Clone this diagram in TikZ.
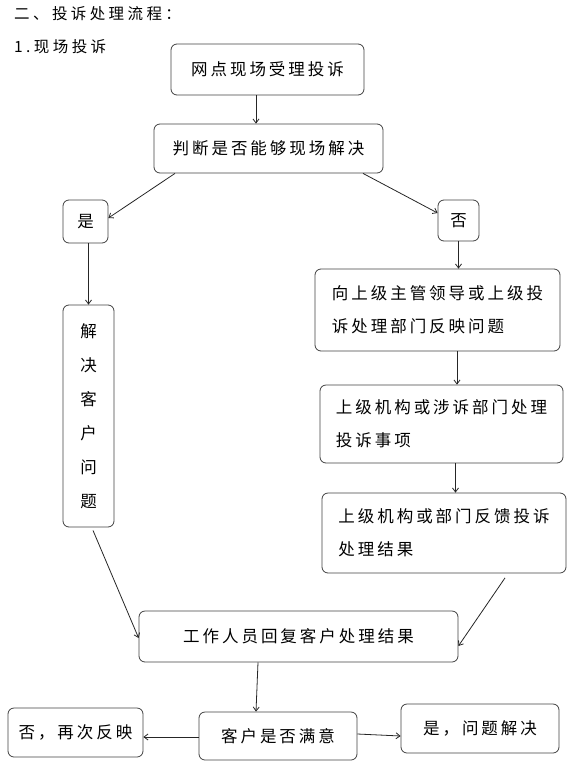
\documentclass[tikz,border=0pt]{standalone}
\usepackage{fontspec}
\newfontfamily\cjk[LetterSpace=18]{Noto Sans CJK SC}
\newfontfamily\cjkh[LetterSpace=22]{Noto Sans CJK SC}
\usetikzlibrary{arrows.meta}
\usetikzlibrary{calc}
\tikzset{b/.style={draw=black!75, line width=0.8pt, rounded corners=6pt, inner sep=0pt, font=\cjk\fontsize{16.5}{33}\selectfont}}
\tikzset{h/.style={inner sep=0pt, anchor=west, font=\cjkh\fontsize{15.5}{15.5}\selectfont}}
\tikzset{v/.style={font=\cjk\fontsize{16.5}{34}\selectfont}}
\tikzset{a/.style={->, draw=black!85, line width=0.8pt}}

\begin{document}
\begin{tikzpicture}[x=1pt,y=-1pt,>={Straight Barb[length=4pt,width=6pt]}]
      \useasboundingbox (0,0) rectangle (574,769);
      \node[h] (title) at (14,14) {二、投诉处理流程：};
      \node[h] (sub) at (14,47) {1.现场投诉};
      \node[b,minimum width=193,minimum height=51] (A) at (267.5,69.5) {网点现场受理投诉};
      \node[b,minimum width=229,minimum height=49] (B) at (268.5,148.5) {判断是否能够现场解决};
      \node[b,minimum width=45,minimum height=43] (yes) at (85.5,221.5) {是};
      \node[b,minimum width=41,minimum height=41] (no) at (458.5,220.5) {否};
      \node[b,minimum width=245,minimum height=82,align=left] (up1) at (437.5,310)
        {向上级主管领导或上级投\\诉处理部门反映问题};
      \node[b,minimum width=243,minimum height=78,align=left] (up2) at (441.5,424)
        {上级机构或涉诉部门处理\\投诉事项\hspace*{117pt}};
      \node[b,minimum width=244,minimum height=80,align=left] (up3) at (444,533)
        {上级机构或部门反馈投诉\\处理结果\hspace*{117pt}};
      \node[b,v,minimum width=51,minimum height=222,align=center] (solve) at (88.5,416)
        {解\\决\\客\\户\\问\\题};
      \node[b,minimum width=319,minimum height=51] (reply) at (298.5,636.5) {工作人员回复客户处理结果};
      \node[b,minimum width=135,minimum height=49] (again) at (75.5,732.5) {否，再次反映};
      \node[b,minimum width=158,minimum height=48] (sat) at (278,736) {客户是否满意};
      \node[b,minimum width=158,minimum height=49] (done) at (480,728.5) {是，问题解决};

      % arrows
      \draw[a] ([xshift=-11.5]A.south) -- ([xshift=-12.5]B.north);
      \draw[a] ([xshift=-93.5]B.south) -- ([yshift=3.5]yes.east);
      \draw[a] ([xshift=94.5]B.south) -- ([yshift=7.5]no.west);
      \draw[a] (no.south) -- (no.south |- up1.north);
      \draw[a] (solve.north |- yes.south) -- (solve.north);
      \draw[a] ([xshift=19.5]up1.south) -- ([xshift=19.5]up1.south |- up2.north);
      \draw[a] ([xshift=14]up2.south) -- ([xshift=14]up2.south |- up3.north);
      \draw[a] ([xshift=4.5,yshift=-3]solve.south) -- ([yshift=-1.5]reply.west);
      \draw[a] ([xshift=61,yshift=-4.5]up3.south) -- ([yshift=-9.5]reply.east);
      \draw[a] ([xshift=-40.5]reply.south) -- ([xshift=-22]sat.north);
      \draw[a] ([yshift=-1]sat.west) -- ([yshift=-1]sat.west -| again.east);
      \draw[a] ([yshift=2]sat.east) -- ([yshift=-7.5]done.west);
    \end{tikzpicture}
\end{document}
